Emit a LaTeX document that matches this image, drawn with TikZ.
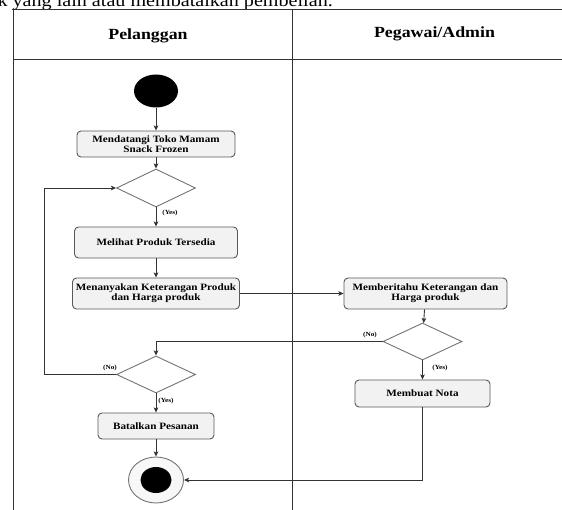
\documentclass[tikz,border=0pt]{standalone}
\usepackage{fontspec}
\setmainfont{Liberation Serif}[FakeStretch=1.15]
\usetikzlibrary{shapes.geometric,arrows.meta}
\begin{document}
\begin{tikzpicture}[x=1pt,y=-1pt,
  lane/.style={draw=black!80,line width=1pt},
  act/.style={draw=black!65,fill=black!5,rounded corners=4pt,line width=0.9pt,
    inner sep=0pt,align=center,font=\fontsize{9.7}{10.4}\selectfont\bfseries},
  dec/.style={diamond,draw=black!55,fill=white,line width=0.9pt,inner sep=0pt,
    minimum width=79pt,minimum height=37pt},
  flow/.style={draw=black!80,line width=0.9pt,-{Stealth[length=5pt,width=4.5pt,inset=1pt]}},
  guard/.style={font=\fontsize{6.3}{7}\selectfont\bfseries,inner sep=0pt},
  lanehead/.style={font=\fontsize{15.5}{16}\selectfont\bfseries,anchor=base,inner sep=0pt}]
\useasboundingbox (0,0) rectangle (562,510);

% line of running text above the table, its top running off the page
\node[anchor=base east,inner sep=0pt,font=\fontsize{17.5}{18}\selectfont] (caption) at (333,7)
  {k yang lain atau membatalkan pembelian.};

% swimlane table
\draw[lane] (12,10) -- (562,10);
\draw[lane] (13,10) -- (13,510);
\draw[lane] (13,60) -- (562,60);
\draw[lane] (292.5,10) -- (292.5,510);
\node[lanehead] (h1) at (148,40) {Pelanggan};
\node[lanehead] (h2) at (434.5,38) {Pegawai/Admin};

% customer lane
\node[ellipse,fill=black,minimum width=44pt,minimum height=33pt,inner sep=0pt] (start) at (156,91) {};
\node[act,minimum width=158pt,minimum height=26pt] (visit) at (156,144) {Mendatangi Toko Mamam\\Snack Frozen};
\node[dec,minimum height=38pt] (d1) at (156,188) {};
\node[act,minimum width=163pt,minimum height=31pt] (see) at (156,242.5) {Melihat Produk Tersedia};
\node[act,minimum width=167pt,minimum height=31pt] (ask) at (156,293.5) {Menanyakan Keterangan Produk\\dan Harga produk};
\node[dec] (d3) at (156,374.5) {};
\node[act,minimum width=116pt,minimum height=26pt] (cancel) at (156,426) {Batalkan Pesanan};
\node[ellipse,draw=black!55,fill=black!3,line width=0.9pt,minimum width=55pt,minimum height=46pt,inner sep=0pt] (end) at (156,480) {};
\node[ellipse,fill=black,minimum width=31pt,minimum height=26pt,inner sep=0pt] (endcore) at (156,480) {};

% staff lane
\node[act,minimum width=163pt,minimum height=31pt] (tell) at (425.5,293.5) {Memberitahu Keterangan dan\\Harga produk};
\node[dec] (d2) at (422.5,341.5) {};
\node[act,minimum width=135pt,minimum height=27pt] (note) at (422.5,393.5) {Membuat Nota};

% flows
\draw[flow] (start) -- (visit);
\draw[flow] (visit) -- (d1);
\draw[flow] (d1) -- (see);
\draw[flow] (see) -- (ask);
\draw[flow] (ask) -- (tell);
\draw[flow] (tell) -- (d2);
\draw[flow] (d2) -- (note);
\draw[flow] (d2.west) -| (d3.north);
\coordinate (loop) at (44,374.5);
\draw[flow] (d3.west) -- (loop) |- (d1.west);
\draw[flow] (d3) -- (cancel);
\draw[flow] (cancel) -- (end);
\draw[flow] (note.south) |- (end.east);

% guards
\node[guard] (g1) at (170,213) {(Yes)};
\node[guard] (g2) at (370,335) {(No)};
\node[guard] (g3) at (440,368) {(Yes)};
\node[guard] (g4) at (110,368) {(No)};
\node[guard] (g5) at (166,401) {(Yes)};
\end{tikzpicture}
\end{document}
